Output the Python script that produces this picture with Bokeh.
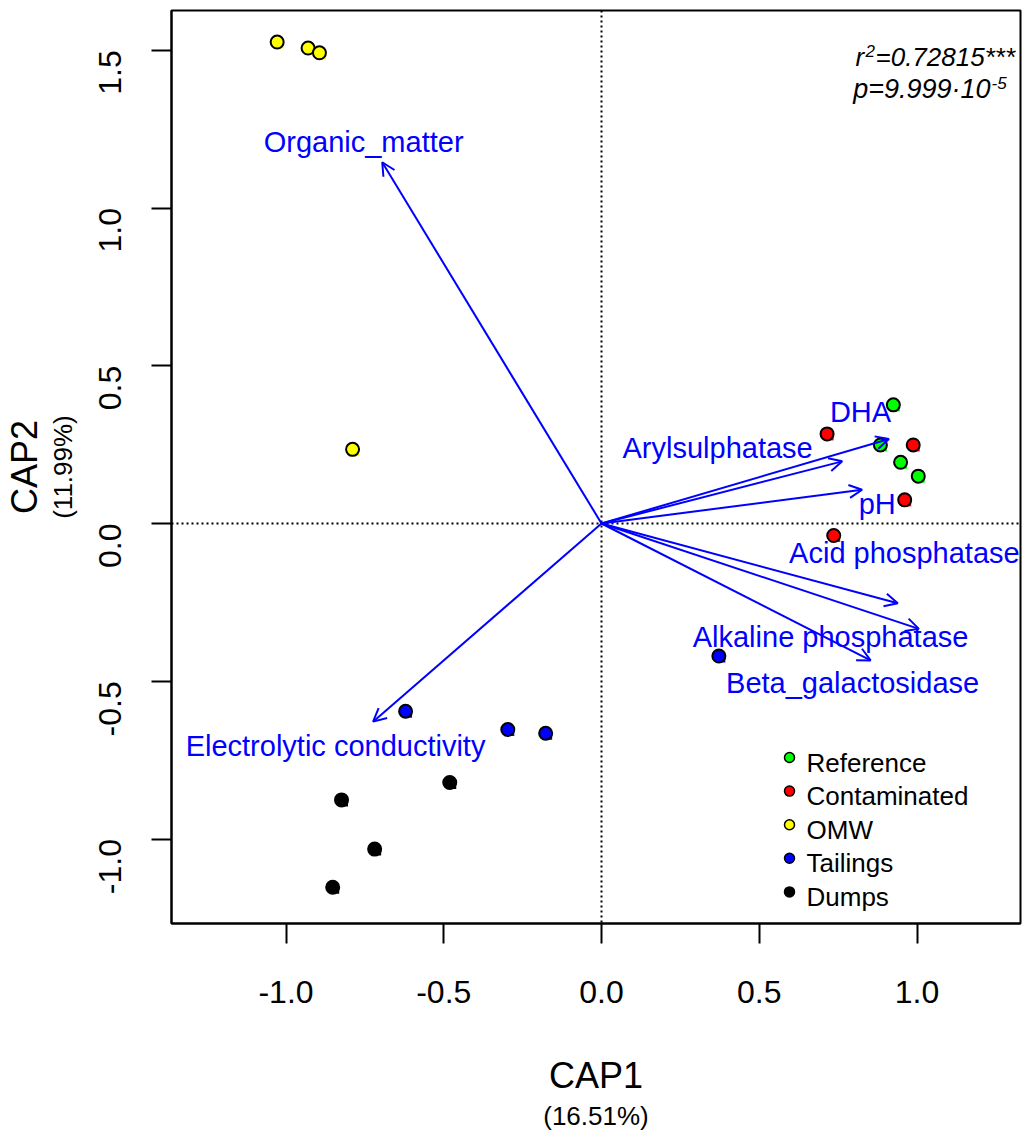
import math
from bokeh.plotting import figure
from bokeh.models import (Range1d, FixedTicker, Arrow, OpenHead, ColumnDataSource,
                          Span, Label, PrintfTickFormatter, Title)
from bokeh.core.properties import value
from bokeh.embed import file_html
from bokeh.resources import INLINE

# ---------------- data ----------------
groups = ["Reference", "Contaminated", "OMW", "Tailings", "Dumps"]
group_colors = ["#00FF00", "#FF0000", "#FFFF00", "#0000FF", "#000000"]

ref_x = [0.925, 0.884, 0.948, 1.004]
ref_y = [0.376, 0.249, 0.194, 0.150]
con_x = [0.715, 0.988, 0.961, 0.736]
con_y = [0.284, 0.249, 0.075, -0.038]
omw_x = [-1.028, -0.930, -0.894, -0.789]
omw_y = [1.526, 1.507, 1.492, 0.235]
tai_x = [0.372, -0.621, -0.297, -0.177]
tai_y = [-0.420, -0.595, -0.653, -0.665]
dum_x = [-0.481, -0.824, -0.719, -0.852]
dum_y = [-0.821, -0.876, -1.032, -1.153]

var_names = ["Organic_matter", "Electrolytic conductivity", "DHA", "Arylsulphatase",
             "pH", "Acid phosphatase", "Alkaline phosphatase", "Beta_galactosidase"]
var_x = [-0.695, -0.724, 0.911, 0.763, 0.826, 0.939, 1.006, 0.853]
var_y = [1.145, -0.628, 0.268, 0.197, 0.107, -0.253, -0.334, -0.434]
var_lab_x = [-0.754, -0.843, 0.821, 0.368, 0.874, 0.960, 0.726, 0.796]
var_lab_y = [1.210, -0.704, 0.353, 0.238, 0.062, -0.092, -0.361, -0.507]

x_ticks = [-1.0, -0.5, 0.0, 0.5, 1.0]
x_tick_labels = ["-1.0", "-0.5", "0.0", "0.5", "1.0"]
y_ticks = [-1.0, -0.5, 0.0, 0.5, 1.0, 1.5]
y_tick_labels = ["-1.0", "-0.5", "0.0", "0.5", "1.0", "1.5"]

x_title, x_sub = "CAP1", "(16.51%)"
y_title, y_sub = "CAP2", "(11.99%)"
stat_r2 = "=0.72815***"
stat_p = "p=9.999\u00b710"

# ---------------- layout helpers (pixel -> data) ----------------
X0, Y0, S = 601.0, 523.0, 315.5
def px(x):
    return (x - X0) / S
def py(y):
    return (Y0 - y) / S

FONT = value("Liberation Sans")

p = figure(width=1024, height=1131,
           x_range=Range1d(px(171), px(1020)), y_range=Range1d(py(923), py(10)),
           output_backend="svg", toolbar_location=None,
           min_border_left=171, min_border_right=4, min_border_top=10, min_border_bottom=208)
p.xgrid.visible = False
p.ygrid.visible = False
p.outline_line_color = "black"
p.outline_line_width = 2
p.background_fill_color = "white"
p.border_fill_color = "white"

for ax, ticks, labels in ((p.xaxis[0], x_ticks, x_tick_labels), (p.yaxis[0], y_ticks, y_tick_labels)):
    ax.ticker = FixedTicker(ticks=ticks)
    ax.formatter = PrintfTickFormatter(format="%.1f")
    ax.major_label_overrides = {t: l for t, l in zip(ticks, labels)}
    ax.axis_line_width = 2
    ax.axis_line_color = "black"
    ax.major_tick_line_width = 2
    ax.major_tick_line_color = "black"
    ax.major_tick_out = 20
    ax.major_tick_in = 0
    ax.minor_tick_out = 0
    ax.minor_tick_in = 0
    ax.major_label_text_font = "Liberation Sans"
    ax.major_label_text_font_size = "32px"
    ax.major_label_text_color = "black"
    ax.axis_label_text_font = "Liberation Sans"
    ax.axis_label_text_font_style = "normal"
    ax.axis_label_text_color = "black"
p.xaxis[0].major_label_standoff = 37
p.yaxis[0].major_label_standoff = 42
p.yaxis[0].major_label_orientation = math.pi / 2

# axis titles: main / sub lines
p.xaxis[0].axis_label = x_title
p.xaxis[0].axis_label_text_font_size = "36px"
p.xaxis[0].axis_label_standoff = 49
p.yaxis[0].axis_label = y_sub
p.yaxis[0].axis_label_text_font_size = "26px"
p.yaxis[0].axis_label_standoff = 7

def side_title(text, size, standoff):
    return Title(text=text, align="center", text_font="Liberation Sans", text_font_size=size,
                 text_font_style="normal", text_color="black", standoff=standoff)

p.add_layout(side_title(x_sub, "26px", 0), "below")
p.add_layout(side_title(y_title, "36px", 0), "left")

# dotted zero lines
p.add_layout(Span(location=0, dimension="height", line_color="black", line_width=2, line_dash="2 3"))
p.add_layout(Span(location=0, dimension="width", line_color="black", line_width=2, line_dash="2 3"))

# site points
series = [(ref_x, ref_y), (con_x, con_y), (omw_x, omw_y), (tai_x, tai_y), (dum_x, dum_y)]
off = 2.5 / S
for (xs, ys), col in zip(series, group_colors):
    p.scatter([x + off for x in xs], [y - off for y in ys], marker="square", size=8,
              fill_color=col, line_color=None)
for (xs, ys), col in zip(series, group_colors):
    p.scatter(xs, ys, marker="circle", size=13, fill_color=col, line_color="black", line_width=2)

# biplot arrows
src = ColumnDataSource(dict(x0=[0.0] * len(var_x), y0=[0.0] * len(var_y), x1=var_x, y1=var_y))
p.add_layout(Arrow(end=OpenHead(size=13, line_color="#0000FF", line_width=2),
                   x_start="x0", y_start="y0", x_end="x1", y_end="y1", source=src,
                   line_color="#0000FF", line_width=2))
p.text(var_lab_x, var_lab_y, text=var_names, text_font=FONT, text_font_size="29px",
       text_color="#0000FF", text_align="center", text_baseline="middle")

# legend (manual, R style)
leg_rows = [762 + 33.6 * i for i in range(len(groups))]
p.scatter([px(789)] * len(groups), [py(r - 5) for r in leg_rows], marker="circle", size=10,
          fill_color=group_colors, line_color="black", line_width=1.5)
p.text([px(806)] * len(groups), [py(r) for r in leg_rows], text=groups, text_font=FONT,
       text_font_size="26px", text_color="black", text_align="left", text_baseline="middle")

# statistics text
def lab(x, y, text, size, align="left"):
    p.add_layout(Label(x=x, y=y, text=text, text_font="Liberation Sans", text_font_size=size,
                       text_font_style="italic", text_align=align, text_baseline="alphabetic",
                       text_color="black"))

lab(px(855), py(56), "r", "26px")
lab(px(865), py(50), "2", "17px")
lab(px(875), py(56), stat_r2, "26px")
lab(px(990), py(88), stat_p, "27px", align="right")
lab(px(991), py(82), "-5", "17px")

open("out.html", "w").write(file_html(p, INLINE))
